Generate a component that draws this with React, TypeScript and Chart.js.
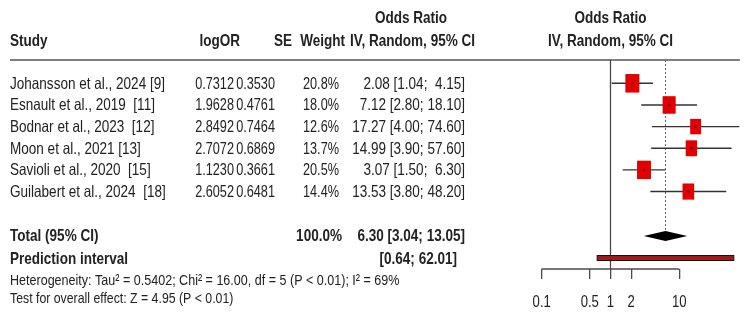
import React, { useEffect, useRef } from "react";
import { Chart, registerables } from "chart.js";

Chart.register(...registerables);

// ---------- data ----------
const studies = [
  "Johansson et al., 2024 [9]",
  "Esnault et al., 2019  [11]",
  "Bodnar et al., 2023  [12]",
  "Moon et al., 2021 [13]",
  "Savioli et al., 2020  [15]",
  "Guilabert et al., 2024  [18]",
];
const logOR = [0.7312, 1.9628, 2.8492, 2.7072, 1.123, 2.6052];
const seVals = [0.353, 0.4761, 0.7464, 0.6869, 0.3661, 0.6481];
const weights = [20.8, 18.0, 12.6, 13.7, 20.5, 14.4];
const oddsRatios = [2.08, 7.12, 17.27, 14.99, 3.07, 13.53];
const ciLower = [1.04, 2.8, 4.0, 3.9, 1.5, 3.8];
const ciUpper = [4.15, 18.1, 74.6, 57.6, 6.3, 48.2];

const totalOR = 6.3;
const totalLower = 3.04;
const totalUpper = 13.05;
const totalWeight = 100.0;
const predLower = 0.64;
const predUpper = 62.01;

const tickValues = [0.1, 0.5, 1, 2, 10];
const tickLabels = ["0.1", "0.5", "1", "2", "10"];

const hetText = "Heterogeneity: Tau\u00B2 = 0.5402; Chi\u00B2 = 16.00, df = 5 (P < 0.01); I\u00B2 = 69%";
const testText = "Test for overall effect: Z = 4.95 (P < 0.01)";

// ---------- layout (rows in y-scale units) ----------
const ROW_TITLE1 = -3.06;
const ROW_TITLE2 = -2.0;
const ROW_TOTAL = 7.05;
const ROW_PRED = 8.07;
const ROW_HET = 9.08;
const ROW_TEST = 9.91;

const FONT = "'Liberation Sans', Arial, sans-serif";
const SX = 0.82; // horizontal condensing of the text
const SX_NUM = 0.77; // numeric columns are set a little tighter
const TEXT = "#222";

const fmtCI = (o: number, l: number, u: number) =>
  `${o.toFixed(2)} [${l.toFixed(2)}; ${u.toFixed(2).padStart(5, " ")}]`;

const forestPlugin = {
  id: "forest",
  beforeDatasetsDraw(chart: any) {
    const { ctx, chartArea, scales } = chart;
    const xs = scales.x;
    const ys = scales.y;
    const X = (v: number) => xs.getPixelForValue(v);
    const Y = (v: number) => ys.getPixelForValue(v);
    const ln = (x1: number, y1: number, x2: number, y2: number) => {
      ctx.beginPath();
      ctx.moveTo(x1, y1);
      ctx.lineTo(x2, y2);
      ctx.stroke();
    };
    ctx.save();
    // header rule
    ctx.strokeStyle = "#555";
    ctx.lineWidth = 1.5;
    ln(10, chartArea.top, 740, chartArea.top);
    // no-effect line
    ctx.strokeStyle = "#4a4a4a";
    ctx.lineWidth = 1.3;
    ln(X(1), chartArea.top, X(1), chartArea.bottom);
    // axis line
    ln(X(tickValues[0]), chartArea.bottom, X(tickValues[tickValues.length - 1]), chartArea.bottom);
    // dotted pooled line
    ctx.setLineDash([2, 2]);
    ctx.strokeStyle = "#666";
    ctx.lineWidth = 1;
    ln(X(totalOR), chartArea.top, X(totalOR), Y(ROW_TOTAL) - 5);
    ctx.setLineDash([]);
    // study CIs and squares
    for (let i = 0; i < studies.length; i++) {
      const yy = Y(i);
      ctx.strokeStyle = "#333";
      ctx.lineWidth = 1.4;
      ln(X(ciLower[i]), yy, X(ciUpper[i]), yy);
      const w = 3.07 * Math.sqrt(weights[i]);
      const h = w + 4.5;
      ctx.fillStyle = "#e20000";
      ctx.fillRect(X(oddsRatios[i]) - w / 2, yy - h / 2, w, h);
    }
    // diamond
    const yd = Y(ROW_TOTAL);
    ctx.fillStyle = "#000";
    ctx.beginPath();
    ctx.moveTo(X(totalLower), yd);
    ctx.lineTo(X(totalOR), yd - 5);
    ctx.lineTo(X(totalUpper), yd);
    ctx.lineTo(X(totalOR), yd + 5);
    ctx.closePath();
    ctx.fill();
    // prediction interval bar
    const yp = Y(ROW_PRED);
    ctx.fillStyle = "#a31818";
    ctx.strokeStyle = "#111";
    ctx.lineWidth = 1;
    const px1 = X(predLower);
    const px2 = X(predUpper);
    ctx.fillRect(px1, yp - 2.5, px2 - px1, 5);
    ctx.strokeRect(px1, yp - 2.5, px2 - px1, 5);
    ctx.restore();
  },
  afterDraw(chart: any) {
    const { ctx, scales, chartArea } = chart;
    const xs = scales.x;
    const ys = scales.y;
    const Y = (v: number) => ys.getPixelForValue(v) + 1;
    const put = (
      s: string,
      x: number,
      y: number,
      align: CanvasTextAlign,
      bold: boolean,
      size: number,
      sx: number = SX
    ) => {
      ctx.save();
      ctx.font = `${bold ? "bold " : ""}${size}px ${FONT}`;
      ctx.textAlign = align;
      ctx.textBaseline = "middle";
      ctx.fillStyle = TEXT;
      ctx.translate(x, y);
      ctx.scale(sx, 1);
      ctx.fillText(s, 0, 0);
      ctx.restore();
    };
    const txt = (s: string, x: number, row: number, align: CanvasTextAlign, bold = false, size = 16.5, sx = SX) =>
      put(s, x, Y(row), align, bold, size, sx);
    // headers
    txt("Odds Ratio", 411, ROW_TITLE1, "center", true);
    txt("Study", 10, ROW_TITLE2, "left", true);
    txt("logOR", 240, ROW_TITLE2, "right", true);
    txt("SE", 292, ROW_TITLE2, "right", true);
    txt("Weight", 345, ROW_TITLE2, "right", true);
    txt("IV, Random, 95% CI", 475, ROW_TITLE2, "right", true);
    const cx = xs.getPixelForValue(1);
    txt("Odds Ratio", cx, ROW_TITLE1, "center", true);
    txt("IV, Random, 95% CI", cx, ROW_TITLE2, "center", true);
    // study rows
    for (let i = 0; i < studies.length; i++) {
      txt(studies[i], 10, i, "left");
      txt(logOR[i].toFixed(4), 234, i, "right", false, 16.5, SX_NUM);
      txt(seVals[i].toFixed(4), 275, i, "right", false, 16.5, SX_NUM);
      txt(`${weights[i].toFixed(1)}%`, 339, i, "right", false, 16.5, SX_NUM);
      txt(fmtCI(oddsRatios[i], ciLower[i], ciUpper[i]), 465, i, "right");
    }
    // totals
    txt("Total (95% CI)", 10, ROW_TOTAL, "left", true);
    txt(`${totalWeight.toFixed(1)}%`, 342, ROW_TOTAL, "right", true);
    txt(fmtCI(totalOR, totalLower, totalUpper), 465, ROW_TOTAL, "right", true);
    txt("Prediction interval", 10, ROW_PRED, "left", true);
    txt(`[${predLower.toFixed(2)}; ${predUpper.toFixed(2)}]`, 457, ROW_PRED, "right", true);
    txt(hetText, 10, ROW_HET, "left", false, 15.3);
    txt(testText, 10, ROW_TEST, "left", false, 15);
    // x-axis tick labels
    xs.ticks.forEach((t: any, i: number) => {
      put(tickLabels[i], xs.getPixelForValue(t.value), chartArea.bottom + 34, "center", false, 16);
    });
  },
};

export default function App() {
  const ref = useRef<HTMLCanvasElement | null>(null);
  useEffect(() => {
    if (!ref.current) return;
    const chart = new Chart(ref.current, {
      type: "scatter",
      data: {
        datasets: [
          {
            label: "Odds ratio",
            data: oddsRatios.map((v, i) => ({ x: v, y: i })),
            pointRadius: 1.2,
            pointBackgroundColor: "#500",
            pointBorderWidth: 0,
            clip: false as any,
          },
        ],
      },
      options: {
        responsive: false,
        animation: false,
        devicePixelRatio: 1,
        layout: { padding: { left: 541.7, right: 5, top: 60, bottom: 0 } },
        plugins: { legend: { display: false }, tooltip: { enabled: false } },
        scales: {
          x: {
            type: "logarithmic",
            min: 0.1,
            max: 90.2,
            afterBuildTicks: (s: any) => {
              s.ticks = tickValues.map((v) => ({ value: v }));
            },
            afterFit: (s: any) => {
              s.height = 52;
            },
            border: { display: false },
            grid: {
              display: true,
              drawOnChartArea: false,
              drawTicks: true,
              tickLength: 10,
              color: "#4a4a4a",
              lineWidth: 1.3,
            },
            ticks: {
              display: false,
              autoSkip: false,
              maxRotation: 0,
            },
          },
          y: {
            type: "linear",
            display: false,
            reverse: true,
            min: -1.076,
            max: 8.577,
          },
        },
      },
      plugins: [forestPlugin],
    });
    return () => chart.destroy();
  }, []);
  return (
    <div style={{ position: "absolute", left: 0, top: 0, width: 750, height: 321, background: "#fff" }}>
      <canvas ref={ref} width={750} height={321} />
    </div>
  );
}
